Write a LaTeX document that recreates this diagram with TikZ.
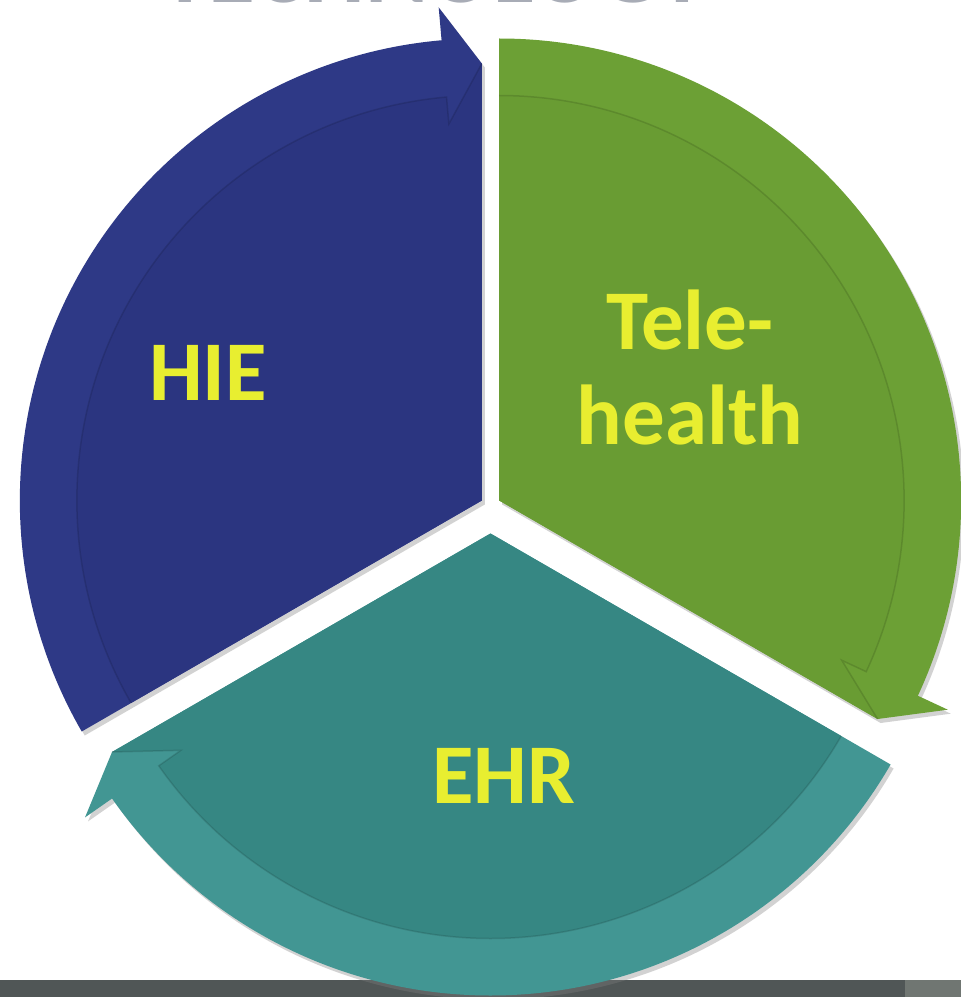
\documentclass[tikz,border=0pt]{standalone}
\usepackage{fontspec}
\setmainfont{Carlito}
\usepackage{tikz}

\definecolor{hieband}{RGB}{46,57,134}
\definecolor{hieinner}{RGB}{43,53,128}
\definecolor{teleband}{RGB}{108,160,53}
\definecolor{teleinner}{RGB}{105,156,51}
\definecolor{ehrband}{RGB}{66,150,147}
\definecolor{ehrinner}{RGB}{54,135,131}
\definecolor{labelyellow}{RGB}{232,238,48}
\definecolor{titlegray}{RGB}{168,172,182}
\definecolor{bargray}{RGB}{80,86,86}
\definecolor{barlight}{RGB}{112,118,114}

\def\Rout{462}
\def\Rin{405}
\def\Rhead{495}
\def\Rbarb{378}
\def\Rtip{437}
\def\dd{5}

% one piece of the circle: shift, start angle, end angle, band colour, inner colour
\newcommand{\piece}[5]{%
  \begin{scope}[shift={#1}]
    \fill[piece shadow] (0,0) -- (#2:\Rout) arc[start angle=#2,end angle=#3+\dd,radius=\Rout]
       -- (#3+\dd:\Rhead) -- (#3:\Rtip) -- cycle;
    \fill[#4] (0,0) -- (#2:\Rout) arc[start angle=#2,end angle=#3+\dd,radius=\Rout]
       -- (#3+\dd:\Rhead) -- (#3:\Rtip) -- cycle;
    \fill[#5] (0,0) -- (#2:\Rin) arc[start angle=#2,end angle=#3+\dd,radius=\Rin]
       -- (#3+\dd:\Rbarb) -- (#3:\Rtip) -- cycle;
    \draw[crease] (#2:\Rin) arc[start angle=#2,end angle=#3+\dd,radius=\Rin]
       -- (#3+\dd:\Rbarb) -- (#3:\Rtip);
  \end{scope}}

\begin{document}
\begin{tikzpicture}[x=1pt,y=1pt,
    piece shadow/.style={gray,opacity=0.35,shift={(3,-4)}},
    crease/.style={black,opacity=0.12,line width=1.5pt},
    label text/.style={text=labelyellow,font=\fontsize{85}{95}\selectfont\bfseries,align=center,inner sep=0pt},
    title text/.style={text=titlegray,font=\fontsize{96}{100}\selectfont\bfseries,inner sep=0pt}]

  \useasboundingbox (-490.5,-491.5) rectangle (470.5,505.5);
  \fill[white] (-490.5,-491.5) rectangle (470.5,505.5);

\begin{scope}
  \clip (-490.5,-491.5) rectangle (470.5,505.5);
  \node (title) at (-56.5,503) [title text,anchor=base] {TECHNOLOGY};
  \fill[bargray] (-490.5,-474.5) rectangle (414.5,-491.5);
  \fill[barlight] (414.5,-474.5) rectangle (470.5,-491.5);
\end{scope}

  \piece{(150:10)}{210}{90}{hieband}{hieinner}
  \piece{(30:10)}{90}{-30}{teleband}{teleinner}
  \piece{(270:28)}{330}{210}{ehrband}{ehrinner}

  \node (hie) at (-282.5,105.5) [label text,anchor=base] {HIE};
  \node (tele) at (199.5,138) [label text] {Tele-\\health};
  \node (ehr) at (13,-297.5) [label text,anchor=base] {EHR};

\end{tikzpicture}
\end{document}
